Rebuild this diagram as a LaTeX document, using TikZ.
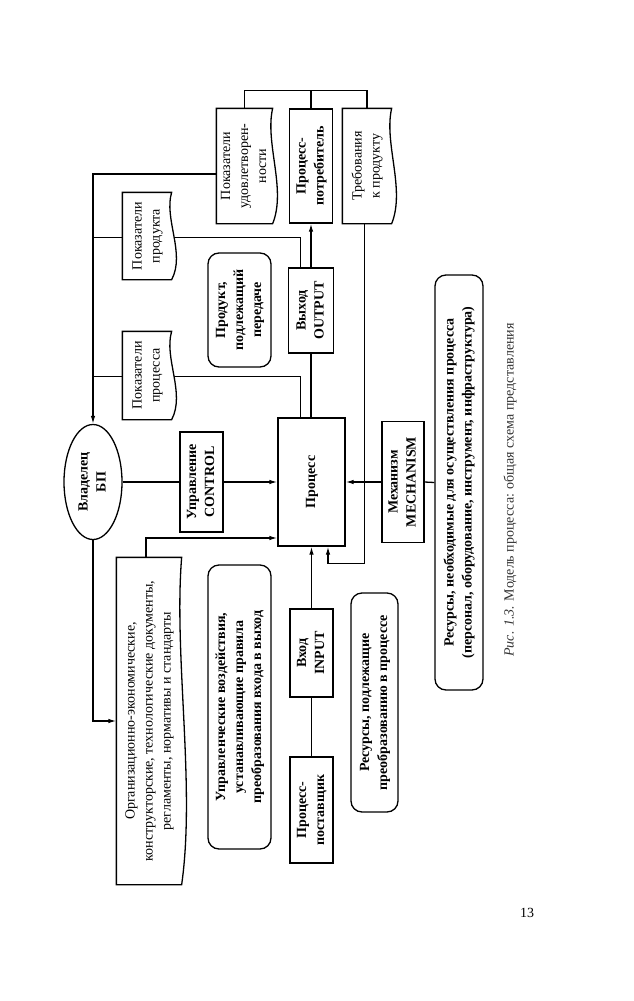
\documentclass[tikz,border=0pt]{standalone}
\usepackage{fontspec}
\setmainfont{Liberation Serif}
\usetikzlibrary{positioning, arrows.meta, shapes.geometric, calc, backgrounds}

\newcommand{\boxfont}{\fontsize{14}{18}\selectfont}
\newcommand{\vtext}[1]{\rotatebox{90}{\begin{tabular}{@{}c@{}}#1\end{tabular}}}
% wavy page-right edge of a document box
\newcommand{\docpath}[1]{(#1.south east)
    .. controls ([xshift=14pt]$(#1.south east)!0.3!(#1.north east)$)
    and ([xshift=-8pt]$(#1.south east)!0.7!(#1.north east)$) .. (#1.north east)
    -- (#1.north west) -- (#1.south west) -- cycle}
\newcommand{\docshape}[1]{%
  \begin{scope}[on background layer]
    \fill[white] \docpath{#1};
  \end{scope}
  \draw \docpath{#1};}

\tikzset{
  box/.style={draw, rectangle, inner sep=0pt, font=\boxfont\bfseries},
  docbox/.style={rectangle, inner sep=0pt, font=\boxfont},
  rbox/.style={draw, rectangle, rounded corners=11pt, inner sep=0pt, font=\boxfont\bfseries},
  arr/.style={-{Latex[length=8pt,width=4.5pt]}},
}

\begin{document}
\begin{tikzpicture}[x=1pt, y=-1pt, line width=1.3pt]
    \begin{scope}[on background layer]
        \fill[white] (0,0) rectangle (634,1001);
    \end{scope}
    \useasboundingbox (0,0) rectangle (634,1001);

    % Top row
    \node[docbox, minimum width=55pt, minimum height=114pt] (satis) at (244.5,166) {\vtext{Показатели\\удовлетворен-\\ности}};
    \node[box, minimum width=43pt, minimum height=114pt] (cons) at (311,166) {\vtext{Процесс-\\потребитель}};
    \node[docbox, minimum width=48pt, minimum height=114pt] (req) at (367,166) {\vtext{Требования\\к продукту}};

    % Indicators
    \node[docbox, minimum width=48pt, minimum height=86pt] (prodind) at (147,236) {\vtext{Показатели\\продукта}};
    \node[docbox, minimum width=48pt, minimum height=87pt] (procind) at (147,375.5) {\vtext{Показатели\\процесса}};

    % Output
    \node[box, minimum width=45pt, minimum height=85pt] (output) at (311,310.5) {\vtext{Выход\\OUTPUT}};
    \node[rbox, minimum width=63pt, minimum height=114pt] (product) at (239.5,310) {\vtext{Продукт,\\подлежащий\\передаче}};

    % Middle row
    \node[draw, ellipse, inner sep=0pt, minimum width=58pt, minimum height=115pt, font=\boxfont\bfseries] (owner) at (93,482) {\vtext{Владелец\\БП}};
    \node[box, minimum width=43pt, minimum height=100pt] (control) at (201.5,482) {\vtext{Управление\\CONTROL}};
    \node[box, minimum width=67pt, minimum height=128pt] (process) at (311.5,482) {\vtext{Процесс}};
    \node[box, minimum width=42pt, minimum height=121pt] (mech) at (403,482) {\vtext{Механизм\\MECHANISM}};
    \node[rbox, minimum width=48pt, minimum height=415pt] (resmech) at (459,482.5) {\vtext{Ресурсы, необходимые для осуществления процесса\\(персонал, оборудование, инструмент, инфраструктура)}};

    % Bottom row
    \node[docbox, minimum width=64pt, minimum height=326pt] (docs) at (149,721) {\vtext{Организационно-экономические,\\конструкторские, технологические документы,\\регламенты, нормативы и стандарты}};
    \node[rbox, minimum width=63pt, minimum height=284pt] (rules) at (239.5,707) {\vtext{Управленческие воздействия,\\устанавливающие правила\\преобразования входа в выход}};
    \node[box, minimum width=43pt, minimum height=88pt] (input) at (311.5,653) {\vtext{Вход\\INPUT}};
    \node[box, minimum width=43pt, minimum height=106pt] (supplier) at (311.5,810) {\vtext{Процесс-\\поставщик}};
    \node[rbox, minimum width=47pt, minimum height=219pt] (resin) at (374.5,702.5) {\vtext{Ресурсы, подлежащие\\преобразованию в процессе}};

    % Connectors
    \coordinate (lbus) at (93,174);
    \coordinate (jprod) at (93,237);
    \coordinate (jproc) at (93,376);
    \begin{scope}[on background layer, line width=1.3pt]
        \draw (jprod) -| ([xshift=-11pt]output.north);
        \draw (jproc) -| ([xshift=-11pt]process.north);
    \end{scope}
    \draw (satis.north) -- ++(0,-18) -| (req.north);
    \draw (cons.north) -- ++(0,-18);
    \draw[arr] (satis.west |- lbus) -- (lbus) -- (owner.north);
    \draw[arr] (output.north) -- (output.north |- cons.south);
    \draw (output.south) -- (output.south |- process.north);
    \draw (owner.east) -- (control.west);
    \draw[arr] (control.east) -- (process.west);
    \draw[arr] ([xshift=-3pt]docs.north) |- ([yshift=-56pt]process.west);
    \draw[arr] (owner.south) |- (docs.west);
    \draw[arr] (mech.west) -- (process.east);
    \draw (resmech.west) -- (mech.east);
    \draw[arr] ([xshift=-2.5pt]req.south) -- ++(0,340) -| ([xshift=16.5pt]process.south);
    \draw[arr] (input.north) -- (process.south);
    \draw (supplier.north) -- (input.south);

    % Document shapes
    \docshape{satis}
    \docshape{req}
    \docshape{prodind}
    \docshape{procind}
    \docshape{docs}

    % Caption and page number
    \node[font=\boxfont, text=black!80] (cap) at (510,490) {\rotatebox{90}{\textit{Рис. 1.3.} Модель процесса: общая схема представления}};
    \node[font=\boxfont] (pnum) at (527,913) {13};
\end{tikzpicture}
\end{document}
